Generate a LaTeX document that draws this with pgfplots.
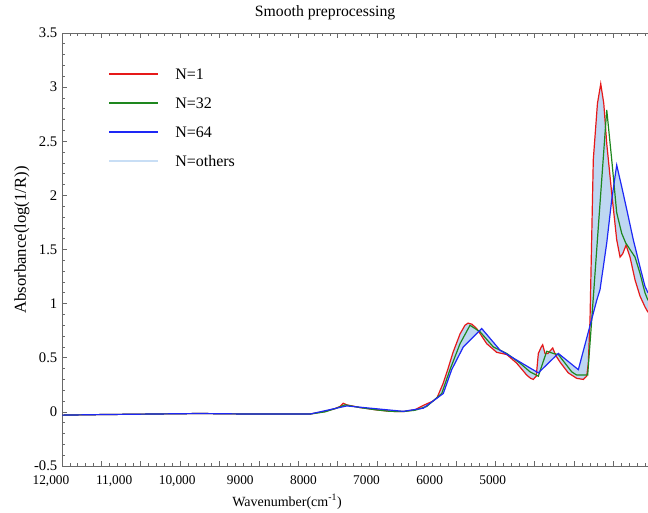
\documentclass[border=0pt]{standalone}
\usepackage{fontspec}
\setmainfont{Liberation Serif}
\usepackage{pgfplots}
\pgfplotsset{compat=1.18}
\usepackage{pgfplotstable}
\usepgfplotslibrary{fillbetween}

\definecolor{cRed}{RGB}{230,25,25}
\definecolor{cGreen}{RGB}{30,135,30}
\definecolor{cBlue}{RGB}{30,40,245}
\definecolor{cBand}{RGB}{190,215,242}
\definecolor{cOthers}{RGB}{200,222,245}
\definecolor{cAxis}{RGB}{105,105,105}

\pgfplotstableread{
x y
11826 -0.03
11223 -0.025
10431 -0.02
9639 -0.015
8846 -0.02
7895 -0.02
7658 0.005
7499 0.03
7420 0.05
7368 0.08
7314 0.065
7103 0.04
6865 0.02
6627 0.005
6417 0.003
6231 0.02
6100 0.06
5946 0.10
5883 0.13
5788 0.26
5708 0.40
5629 0.55
5518 0.72
5440 0.80
5391 0.82
5330 0.81
5254 0.77
5095 0.63
4937 0.55
4778 0.53
4620 0.45
4461 0.34
4400 0.31
4357 0.30
4310 0.33
4277 0.54
4230 0.60
4208 0.62
4171 0.54
4124 0.54
4080 0.57
4049 0.59
4000 0.52
3933 0.46
3881 0.42
3802 0.36
3669 0.31
3564 0.30
3510 0.33
3485 0.45
3458 0.85
3406 2.33
3340 2.85
3288 3.03
3240 2.85
3193 2.48
3114 2.02
3035 1.59
2982 1.43
2940 1.46
2887 1.54
2824 1.43
2745 1.22
2666 1.07
2587 0.97
2539 0.92
}\redtab

\pgfplotstableread{
x y
11826 -0.03
11223 -0.025
10431 -0.02
9639 -0.015
8846 -0.02
7895 -0.02
7658 0.0
7499 0.03
7340 0.065
7103 0.04
6865 0.02
6627 0.005
6417 0.003
6231 0.015
6046 0.05
5808 0.17
5677 0.39
5518 0.63
5360 0.80
5201 0.74
4990 0.60
4778 0.54
4567 0.45
4409 0.37
4277 0.33
4144 0.56
4040 0.54
3960 0.53
3854 0.45
3748 0.37
3669 0.34
3537 0.34
3495 0.34
3431 0.85
3326 1.71
3193 2.79
3114 2.33
3035 1.84
2956 1.65
2892 1.56
2824 1.50
2745 1.43
2666 1.28
2587 1.10
2539 1.03
}\greentab

\pgfplotstableread{
x y
11826 -0.03
11223 -0.025
10431 -0.02
9639 -0.015
8846 -0.02
7895 -0.02
7314 0.055
6417 0.005
6100 0.034
5783 0.17
5650 0.39
5466 0.60
5174 0.77
4884 0.57
4277 0.36
3960 0.54
3643 0.39
3352 1.03
3299 1.13
3193 1.56
3114 1.96
3035 2.28
2956 2.08
2876 1.87
2772 1.59
2666 1.34
2587 1.16
2539 1.10
}\bluetab

\begin{document}
\begin{tikzpicture}
\begin{axis}[
  name=ax,
  scale only axis,
  width=439.5pt, height=324.75pt,
  x dir=reverse,
  xmin=2539, xmax=11826,
  ymin=-0.5, ymax=3.5,
  axis x line*=box,
  axis y line*=left,
  axis line style={-, draw=cAxis, line width=0.5pt},
  every tick/.style={draw=cAxis, line width=0.5pt},
  tick align=inside,
  major tick length=4pt, minor tick length=2.3pt,
  scaled x ticks=false,
  xtick={11826,11201.6,...,3000},
  xticklabel={\vphantom{0}},
  minor xtick={11826,11701.12,...,2540},
  extra x ticks={11826,11000,10000,9000,8000,7000,6000,5000},
  extra x tick labels={{\makebox[0pt]{12,000\hspace{16.5pt}}},{11,000},{10,000},9000,8000,7000,6000,5000},
  extra x tick style={major tick length=0pt},
  xticklabel style={yshift=-3.5pt},
  ytick={-0.5,0,0.5,1,1.5,2,2.5,3,3.5},
  yticklabels={-0.5,0,0.5,1,1.5,2,2.5,3,3.5},
  minor y tick num=4,
  /pgf/number format/assume math mode=true,
  ticklabel style={font=\fontsize{10}{12}\selectfont},
  yticklabel style={font=\fontsize{11}{13}\selectfont},
  title={Smooth preprocessing},
  title style={at={(0.449,1)}, anchor=base, yshift=6.75pt, font=\fontsize{11.8}{14}\selectfont},
  xlabel={Wavenumber(cm\textsuperscript{-1})},
  xlabel style={at={(axis description cs:0.384,0)}, anchor=base, yshift=-30pt, font=\fontsize{10.5}{12}\selectfont},
  ylabel={Absorbance(log(1/R))},
  ylabel style={at={(axis description cs:-0.0683,0.522)}, anchor=center, rotate=0, font=\fontsize{12.5}{15}\selectfont},
]
\addplot[draw=none, name path=R, forget plot] table {\redtab};
\addplot[draw=none, name path=B, forget plot] table {\bluetab};
\addplot[fill=cBand, draw=none, forget plot] fill between[of=R and B];
\addplot[cRed, line width=0.9pt, forget plot] table {\redtab};
\addplot[cGreen, line width=0.9pt, forget plot] table {\greentab};
\addplot[cBlue, line width=0.9pt, forget plot] table {\bluetab};
\end{axis}
% legend (key), placed from the axis' top-left corner
\begin{scope}[shift={(ax.north west)}, every node/.style={anchor=west, inner sep=0pt, font=\fontsize{12}{14}\selectfont}]
  \draw[draw=cRed, line width=0.9pt] (35.25pt,-30.75pt) -- ++(36.75pt,0pt);
  \node at (84.75pt,-30.75pt) {N=1};
  \draw[draw=cGreen, line width=0.9pt] (35.25pt,-52.5pt) -- ++(36.75pt,0pt);
  \node at (84.75pt,-52.5pt) {N=32};
  \draw[draw=cBlue, line width=0.9pt] (35.25pt,-74.25pt) -- ++(36.75pt,0pt);
  \node at (84.75pt,-74.25pt) {N=64};
  \draw[draw=cOthers, line width=1.2pt] (35.25pt,-96pt) -- ++(36.75pt,0pt);
  \node at (84.75pt,-96pt) {N=others};
\end{scope}
\pgfresetboundingbox
\path ([xshift=-46.5pt, yshift=-34.5pt]ax.south west) rectangle ([yshift=24.75pt]ax.north east);
\end{tikzpicture}
\end{document}
